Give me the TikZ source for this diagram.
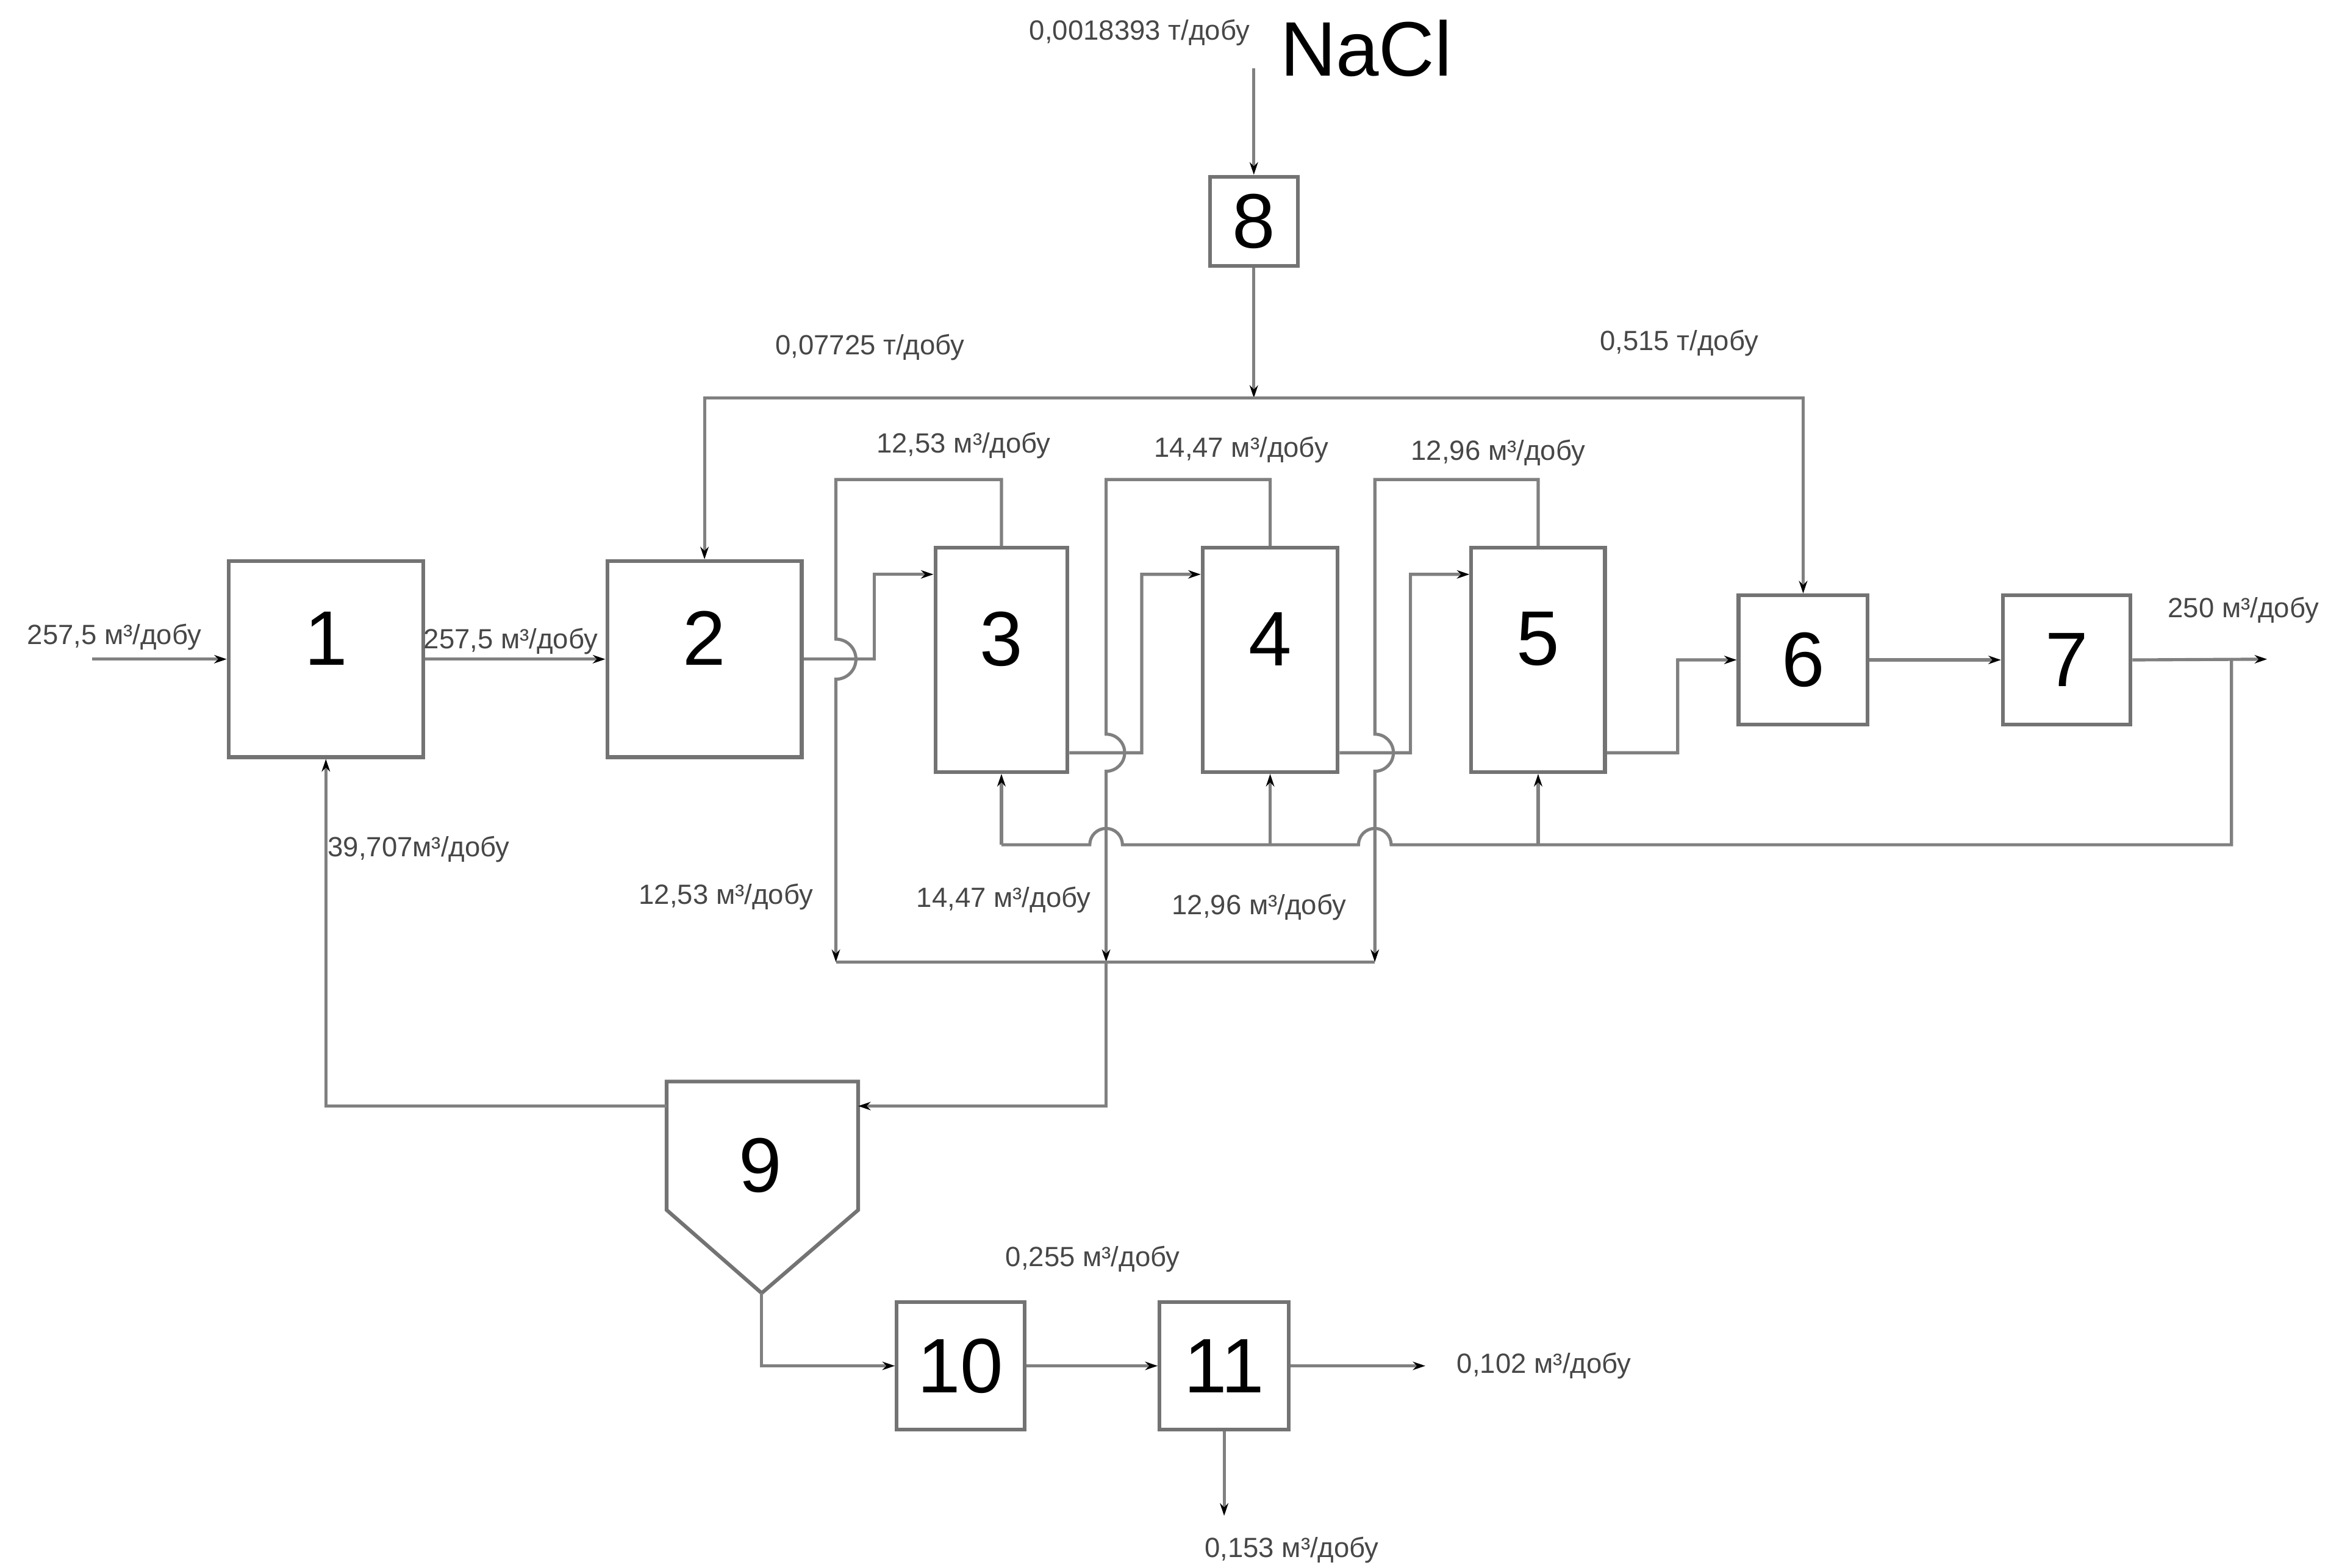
\documentclass[tikz,border=0pt]{standalone}
\usepackage{fontspec}
\setmainfont{Liberation Sans}
\usetikzlibrary{arrows.meta}
\newcommand{\upnum}[1]{\raisebox{10pt}[\height][\depth]{#1}}
\begin{document}
\begin{tikzpicture}[x=0.025cm, y=-0.025cm,
  line/.style={draw=black!50, line width=1.5pt},
  arr/.style={line, -{Stealth[length=6pt,width=4pt,color=black]}},
  unit/.style={draw=black!55, line width=1.8pt, inner sep=0pt, fill=white,
    font=\fontsize{37}{40}\selectfont, text=black},
  lbl/.style={font=\fontsize{13.3}{15}\selectfont, text=black!72, inner sep=0pt},
]
\path[use as bounding box] (0,0) rectangle (1568,1056);

% units
\node[unit, minimum width=3.275cm, minimum height=3.3cm]  (b1) at (219.5,444) {\upnum{1}};
\node[unit, minimum width=3.275cm, minimum height=3.3cm]  (b2) at (474.5,444) {\upnum{2}};
\node[unit, minimum width=2.225cm, minimum height=3.775cm] (b3) at (674.5,444.5) {\upnum{3}};
\node[unit, minimum width=2.275cm, minimum height=3.775cm] (b4) at (855.5,444.5) {\upnum{4}};
\node[unit, minimum width=2.25cm, minimum height=3.775cm]  (b5) at (1036,444.5) {\upnum{5}};
\node[unit, minimum width=2.175cm, minimum height=2.175cm] (b6) at (1214.5,444.5) {6};
\node[unit, minimum width=2.15cm, minimum height=2.175cm]  (b7) at (1392,444.5) {7};
\node[unit, minimum width=1.475cm, minimum height=1.5cm]   (b8) at (844.5,149) {8};
\node[unit, minimum width=2.15cm, minimum height=2.15cm]   (b10) at (647,920) {10};
\node[unit, minimum width=2.175cm, minimum height=2.15cm]  (b11) at (824.5,920) {11};
% unit 9 (hopper)
\draw[draw=black!55, line width=1.8pt, line join=miter]
  (449,728.5) -- (578,728.5) -- (578,815) -- (513,871) -- (449,815) -- cycle;
\node[font=\fontsize{37}{40}\selectfont, inner sep=0pt] (b9) at (512,785) {9};
\coordinate (b9r) at (578,745);
\coordinate (b9l) at (449,745);
\coordinate (b9b) at (513,871);

% feed and 1 -> 2
\coordinate (in1) at (62,444);
\draw[arr] (in1) -- (b1.west);
\draw[arr] (b1.east) -- (b2.west);

% NaCl dosing
\coordinate (nacl) at (844.5,46);
\coordinate (j8) at (844.5,268);
\draw[arr] (nacl) -- (b8.north);
\draw[arr] (b8.south) -- (j8);
\draw[arr] (j8) -| (b2.north);
\draw[arr] (j8) -| (b6.north);

% series 2 -> 3 -> 4 -> 5 -> 6
\draw[arr] (b2.east) -- (589,444) |- ([yshift=1.44cm]b3.west);
\draw[arr] ([yshift=-1.5625cm]b3.east) -- (769,507) |- ([yshift=1.44cm]b4.west);
\draw[arr] ([yshift=-1.5625cm]b4.east) -- (950,507) |- ([yshift=1.44cm]b5.west);
\draw[arr] ([yshift=-1.5625cm]b5.east) -- (1130,507) |- (b6.west);
\draw[arr] (b6.east) -- (b7.west);
\coordinate (out7) at (1527,444);
\coordinate (j7) at (1503,444);
\draw[arr] (b7.east) -- (out7);

% top outlets of 3,4,5 to the collector (with line jumps)
\draw[arr] (b3.north) |- (563,323) -- (563,430.5) arc[start angle=-90, end angle=90, radius=13.5] -- (563,648);
\draw[arr] (b4.north) |- (745,323) -- (745,494.5) arc[start angle=-90, end angle=90, radius=12.5] -- (745,648);
\draw[arr] (b5.north) |- (926,323) -- (926,494.5) arc[start angle=-90, end angle=90, radius=12.5] -- (926,648);
\draw[line] (563,648) -- (926,648);
\draw[arr] (745,648) -- (745,745) -- (b9r);

% return line from 7 to the bottoms of 3,4,5
\coordinate (bl) at (0,569);
\draw[line] (b3.south |- bl) -- (734,569) arc[start angle=180, end angle=360, radius=11]
  -- (915,569) arc[start angle=180, end angle=360, radius=11] -- (1503,569) -- (j7);
\draw[arr] (b3.south |- bl) -- (b3.south);
\draw[arr] (b4.south |- bl) -- (b4.south);
\draw[arr] (b5.south |- bl) -- (b5.south);

% 9 -> 1, 9 -> 10 -> 11
\draw[arr] (b9l) -| (b1.south);
\draw[arr] (b9b) |- (b10.west);
\draw[arr] (b10.east) -- (b11.west);
\coordinate (out11) at (960,920);
\coordinate (down11) at (824.5,1021);
\draw[arr] (b11.east) -- (out11);
\draw[arr] (b11.south) -- (down11);

% labels
\node[lbl] (t1) at (77,429) {257,5 м³/добу};
\node[lbl] (t2) at (344,432) {257,5 м³/добу};
\node[lbl] (t3) at (282,572) {39,707м³/добу};
\node[lbl, anchor=east] (t4) at (842,22) {0,0018393 т/добу};
\node[font=\fontsize{37}{40}\selectfont, inner sep=0pt, anchor=base west] (t5) at (862,51) {NaCl};
\node[lbl] (t6) at (586,234) {0,07725 т/добу};
\node[lbl] (t7) at (1131,231) {0,515 т/добу};
\node[lbl] (t8) at (649,300) {12,53 м³/добу};
\node[lbl] (t9) at (836,303) {14,47 м³/добу};
\node[lbl] (t10) at (1009,305) {12,96 м³/добу};
\node[lbl] (t11) at (489,604) {12,53 м³/добу};
\node[lbl] (t12) at (676,606) {14,47 м³/добу};
\node[lbl] (t13) at (848,611) {12,96 м³/добу};
\node[lbl] (t14) at (1511,411) {250 м³/добу};
\node[lbl] (t15) at (736,848) {0,255 м³/добу};
\node[lbl] (t16) at (1040,920) {0,102 м³/добу};
\node[lbl] (t17) at (870,1044) {0,153 м³/добу};
\end{tikzpicture}
\end{document}
